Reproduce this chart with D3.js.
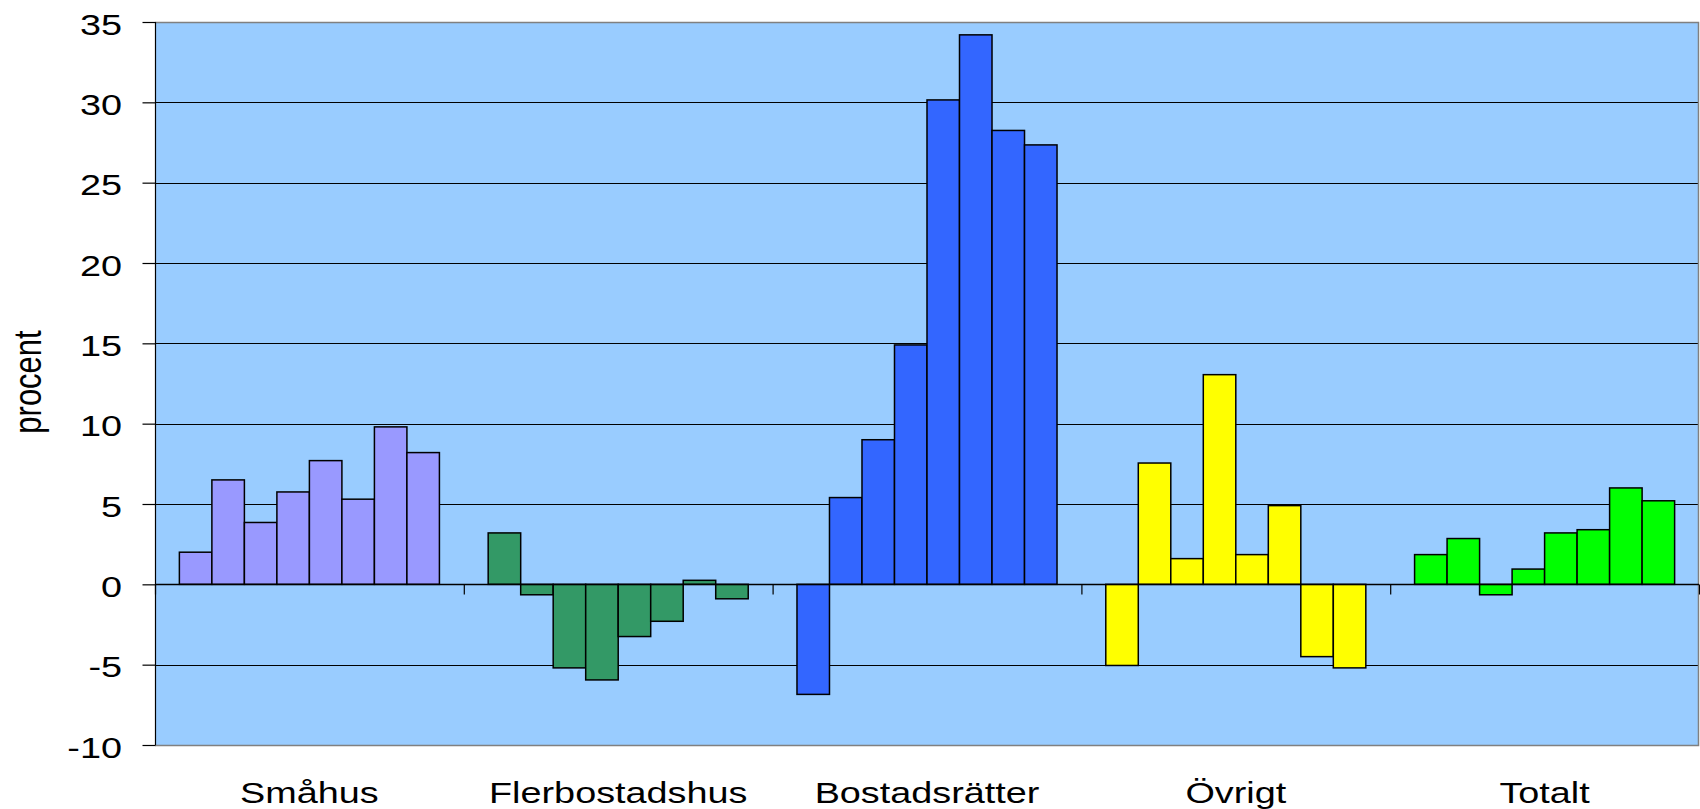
<!DOCTYPE html>
<html>
<head>
<meta charset="utf-8">
<script src="https://cdn.jsdelivr.net/npm/d3@7"></script>
<style>
  html, body { margin: 0; padding: 0; background: #ffffff; }
  svg { display: block; }
  text { font-family: "Liberation Sans", Arial, sans-serif; fill: #000; }
</style>
</head>
<body>
<svg id="chart" width="1700" height="809"></svg>
<script>
const categories = ["Småhus", "Flerbostadshus", "Bostadsrätter", "Övrigt", "Totalt"];
const smahus         = [2.0, 6.5, 3.85, 5.75, 7.7, 5.3, 9.8, 8.2];
const flerbostadshus = [3.2, -0.65, -5.2, -5.95, -3.25, -2.3, 0.25, -0.9];
const bostadsratter  = [-6.85, 5.4, 9.0, 14.9, 30.15, 34.2, 28.25, 27.35];
const ovrigt         = [-5.05, 7.55, 1.6, 13.05, 1.85, 4.9, -4.5, -5.2];
const totalt         = [1.85, 2.85, -0.65, 0.95, 3.2, 3.4, 6.0, 5.2];
const yTicks = [-10, -5, 0, 5, 10, 15, 20, 25, 30, 35];
const yLabel = "procent";
const colors = ["#9999FF", "#339966", "#3366FF", "#FFFF00", "#00FF00"];

const series = [smahus, flerbostadshus, bostadsratter, ovrigt, totalt];

const svg = d3.select("#chart");
const pL = 155, pR = 1699, pT = 22, pB = 745;
const stretch = 1.26;

const y = d3.scaleLinear().domain([-10, 35]).range([pB, pT]);
const x0 = d3.scaleBand().domain(categories).range([pL, pR]).paddingInner(0).paddingOuter(0);
const bw = x0.bandwidth();
const barW = bw / 9.5;
const x1 = d3.scaleBand().domain(d3.range(8)).range([0.75 * barW, bw - 0.75 * barW]).padding(0);

// plot background
svg.append("rect").attr("x", pL).attr("y", pT).attr("width", pR - pL).attr("height", pB - pT)
  .attr("fill", "#99CCFF");

// gridlines
svg.append("g").selectAll("line").data(yTicks.filter(t => t !== -10 && t !== 35 && t !== 0)).join("line")
  .attr("x1", pL).attr("x2", pR)
  .attr("y1", d => Math.round(y(d)) + 0.5).attr("y2", d => Math.round(y(d)) + 0.5)
  .attr("stroke", "#000").attr("stroke-width", 1);

// border top/right/bottom gray
svg.append("path")
  .attr("d", `M${pL},${pT + 0.5}H${pR - 0.5}V${pB + 0.5}H${pL}`)
  .attr("fill", "none").attr("stroke", "#808080").attr("stroke-width", 1.5);

// bars
const groups = svg.append("g").selectAll("g").data(categories).join("g")
  .attr("transform", d => `translate(${x0(d)},0)`);
groups.each(function(cat, ci) {
  d3.select(this).selectAll("rect").data(series[ci]).join("rect")
    .attr("x", (d, i) => x1(i))
    .attr("width", x1.bandwidth())
    .attr("y", d => y(Math.max(0, d)))
    .attr("height", d => Math.abs(y(d) - y(0)))
    .attr("fill", colors[ci])
    .attr("stroke", "#000")
    .attr("stroke-width", 1.5);
});

// y axis
const yAxis = d3.axisLeft(y).tickValues(yTicks).tickSize(13).tickFormat(d3.format("d"));
const gy = svg.append("g").attr("transform", `translate(${pL + 0.5},0)`).call(yAxis);
gy.select(".domain").attr("stroke", "#000").attr("stroke-width", 1.2).attr("d", `M0,${pT}V${pB}`);
gy.selectAll(".tick line").attr("stroke", "#000").attr("stroke-width", 1.2);
gy.selectAll(".tick text").remove();
svg.append("g").selectAll("text").data(yTicks).join("text")
  .attr("transform", d => `translate(122,${y(d)}) scale(${stretch},1)`)
  .attr("text-anchor", "end")
  .attr("dy", "0.42em")
  .attr("font-size", 30)
  .text(d => d);

// category axis at zero
const boundaries = categories.map(c => x0(c)).concat([pR]);
const xLin = d3.scaleLinear().domain([pL, pR]).range([pL, pR]);
const xAxis = d3.axisBottom(xLin).tickValues(boundaries).tickSize(10).tickFormat("");
const gx = svg.append("g").attr("transform", `translate(0,${Math.round(y(0)) + 0.5})`).call(xAxis);
gx.select(".domain").attr("stroke", "#000").attr("stroke-width", 1.5).attr("d", `M${pL},0H${pR}`);
gx.selectAll(".tick line").attr("stroke", "#000").attr("stroke-width", 1.2);

// category labels
svg.append("g").selectAll("text").data(categories).join("text")
  .attr("transform", d => `translate(${x0(d) + bw / 2},803) scale(${stretch},1)`)
  .attr("text-anchor", "middle")
  .attr("font-size", 30)
  .text(d => d);

// y label
svg.append("text")
  .attr("transform", `translate(41,382) scale(${stretch},1) rotate(-90)`)
  .attr("text-anchor", "middle")
  .attr("font-size", 31)
  .text(yLabel);
</script>
</body>
</html>
